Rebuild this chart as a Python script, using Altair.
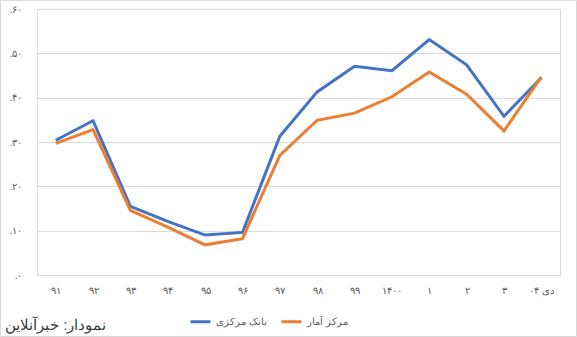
import altair as alt
import pandas as pd

periods = ["۹۱", "۹۲", "۹۳", "۹۴", "۹۵", "۹۶", "۹۷", "۹۸", "۹۹", "۱۴۰۰", "۱", "۲", "۳", "دی ۰۴"]
bank_markazi = [0.304, 0.348, 0.155, 0.121, 0.090, 0.096, 0.313, 0.413, 0.471, 0.461, 0.531, 0.474, 0.358, 0.445]
markaz_amar = [0.297, 0.328, 0.146, 0.108, 0.068, 0.082, 0.270, 0.349, 0.365, 0.402, 0.458, 0.408, 0.325, 0.447]
series_names = ["بانک مرکزی", "مرکز آمار"]
series_colors = ["#4472C4", "#ED7D31"]
y_ticks = [0, 0.1, 0.2, 0.3, 0.4, 0.5, 0.6]
y_tick_labels = [".۰", ".۱۰", ".۲۰", ".۳۰", ".۴۰", ".۵۰", ".۶۰"]
source_text = "نمودار: خبرآنلاین"

rows = []
for i, p in enumerate(periods):
    rows.append({"period": p, "series": series_names[0], "value": bank_markazi[i], "order": i})
    rows.append({"period": p, "series": series_names[1], "value": markaz_amar[i], "order": i})
df = pd.DataFrame(rows)

FONT = "Liberation Sans"
label_expr = "[" + ",".join("'" + s + "'" for s in y_tick_labels) + "][round(datum.value*10)]"

lines = alt.Chart(df).mark_line(strokeWidth=3, strokeJoin="miter").encode(
    x=alt.X("period:N", sort=periods, title=None,
            scale=alt.Scale(type="point", padding=0.5),
            axis=alt.Axis(labelAngle=0, domain=False, ticks=False, labelPadding=10,
                          labelFontSize=10, labelColor="#595959", labelFont=FONT)),
    y=alt.Y("value:Q", title=None,
            scale=alt.Scale(domain=[0, 0.6], nice=False),
            axis=alt.Axis(values=y_ticks, labelExpr=label_expr, domain=False, ticks=False,
                          labelPadding=15, labelFontSize=10, labelColor="#595959",
                          labelFont=FONT, gridColor="#D9D9D9", gridWidth=1)),
    color=alt.Color("series:N", sort=series_names,
                    scale=alt.Scale(domain=series_names, range=series_colors),
                    legend=alt.Legend(title=None, orient="none", direction="horizontal",
                                      legendX=152, legendY=301,
                                      symbolType="stroke", symbolStrokeWidth=3, symbolSize=400,
                                      labelFontSize=10, labelColor="#595959", labelFont=FONT,
                                      columnPadding=8, symbolOffset=0)),
    order=alt.Order("order:Q"),
)

border = alt.Chart(pd.DataFrame({"a": [0]})).mark_rect(
    fill=None, stroke="#D9D9D9", strokeWidth=1, clip=False
).encode(x=alt.value(-36.5), x2=alt.value(539.5), y=alt.value(-8.5), y2=alt.value(327.5))

chart = alt.layer(lines, border).properties(
    width=523, height=266,
    padding={"left": 37, "top": 9, "right": 17, "bottom": 62},
    autosize=alt.AutoSizeParams(type="none"),
    title=alt.TitleParams(source_text, orient="bottom", anchor="start", frame="group",
                          dx=-32, offset=-19, fontSize=15, fontWeight="normal",
                          color="#404040", font=FONT),
).configure_view(stroke=None).configure(background="white")

chart.save("out.html", embed_options={"renderer": "svg", "actions": False})
